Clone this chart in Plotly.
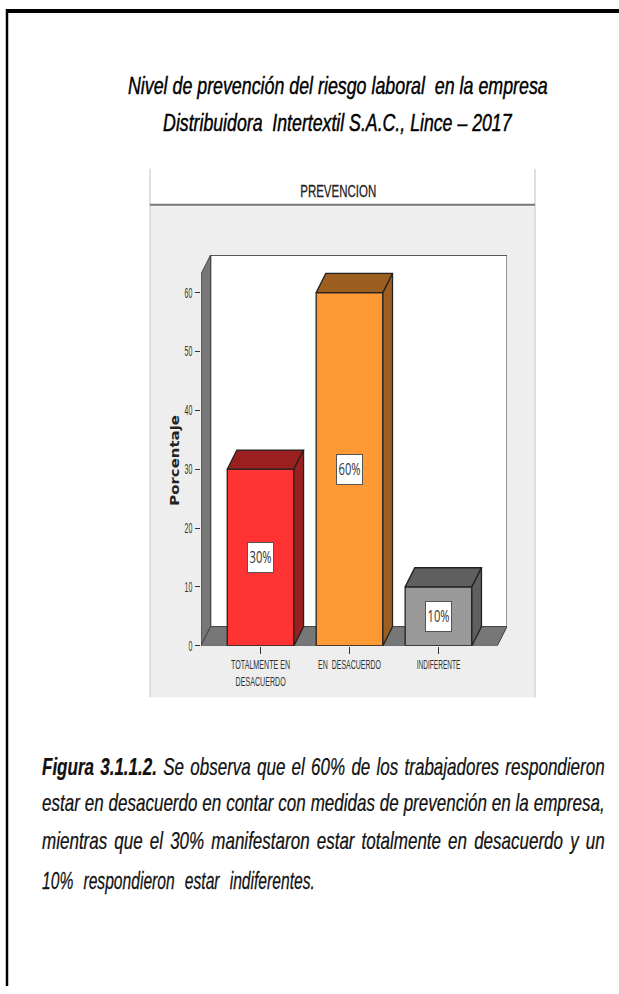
import json
import plotly.graph_objects as go

W, H = 619, 994
categories = ["TOTALMENTE EN<br>DESACUERDO", "EN  DESACUERDO", "INDIFERENTE"]
values = [30, 60, 10]
labels = ["30%", "60%", "10%"]
front_colors = ["#ff3333", "#ff9933", "#999999"]
dark_colors = ["#9c1f1f", "#9c5f1f", "#5f5f5f"]
y_ticks = [0, 10, 20, 30, 40, 50, 60]
title_lines = ["Nivel de prevención del riesgo laboral  en la empresa",
               "Distribuidora  Intertextil S.A.C., Lince – 2017"]
caption_lines = [
    "<b>Figura 3.1.1.2.</b> Se observa que el 60% de los trabajadores respondieron",
    "estar en desacuerdo en contar con medidas de prevención en la empresa,",
    "mientras que el 30% manifestaron estar totalmente en desacuerdo y un",
    "10% respondieron estar indiferentes.",
]

XMIN, XMAX, YMAX = -0.67, 2.77, 66.4
DX, DY, HALF = 0.108, 3.25, 0.375
FONT = "Liberation Sans"

def px(x): return x / W
def py(y): return 1 - y / H

fig = go.Figure()
xs = list(range(len(values)))
fig.add_trace(go.Bar(x=xs, y=values, width=2 * HALF, marker=dict(color=front_colors, line=dict(color="#222222", width=1.3)),
                     showlegend=False, hoverinfo="skip"))
for x, v, c in zip(xs, values, dark_colors):
    l, r = x - HALF, x + HALF
    fig.add_trace(go.Scatter(x=[l, r, r + DX, l + DX, l], y=[v, v, v + DY, v + DY, v], fill="toself", fillcolor=c,
                             mode="lines", line=dict(color="#222222", width=1.3), showlegend=False, hoverinfo="skip"))
    fig.add_trace(go.Scatter(x=[r, r + DX, r + DX, r, r], y=[0, DY, v + DY, v, 0], fill="toself", fillcolor=c,
                             mode="lines", line=dict(color="#222222", width=1.3), showlegend=False, hoverinfo="skip"))

def poly(pts):
    return "M" + " L".join(f"{a},{b}" for a, b in pts) + " Z"

shapes = [
    dict(type="rect", xref="paper", yref="paper", x0=px(150), x1=px(535), y0=py(703), y1=py(207), fillcolor="#eeeeee",
         line=dict(width=0), layer="below"),
    dict(type="line", xref="paper", yref="paper", x0=px(150), x1=px(150), y0=py(703), y1=py(170), line=dict(color="#d4d4d4", width=1.5), layer="below"),
    dict(type="line", xref="paper", yref="paper", x0=px(535), x1=px(535), y0=py(703), y1=py(170), line=dict(color="#d4d4d4", width=1.5), layer="below"),
    dict(type="line", xref="paper", yref="paper", x0=px(150), x1=px(535), y0=py(206.5), y1=py(206.5), line=dict(color="#777777", width=2), layer="below"),
    dict(type="line", xref="paper", yref="paper", x0=px(6), x1=px(619), y0=py(11), y1=py(11), line=dict(color="black", width=4)),
    dict(type="line", xref="paper", yref="paper", x0=px(7), x1=px(7), y0=py(9), y1=py(994), line=dict(color="black", width=2.5)),
    dict(type="path", path=poly([(XMIN + DX, DY), (XMIN + DX, YMAX), (XMAX, YMAX), (XMAX, DY)]), fillcolor="white",
         line=dict(color="#777777", width=1.5), layer="below"),
    dict(type="line", x0=XMIN + DX, x1=XMAX, y0=YMAX, y1=YMAX, line=dict(color="#444444", width=1.5), layer="below"),
    dict(type="path", path=poly([(XMIN, 0), (XMIN, YMAX - DY), (XMIN + DX, YMAX), (XMIN + DX, DY)]), fillcolor="#777777",
         line=dict(color="#444444", width=1), layer="below"),
    dict(type="path", path=poly([(XMIN, 0), (XMIN + DX, DY), (XMAX, DY), (XMAX - DX, 0)]), fillcolor="#777777",
         line=dict(color="#444444", width=1), layer="below"),
]

ann, fits = [], []
def note(text, x, y, size, family=FONT, color="#111111", fit=None, **kw):
    d = dict(text=text, x=x, y=y, showarrow=False, yanchor="middle", font=dict(family=family, size=size, color=color))
    d.update(kw)
    ann.append(d)
    fits.append(fit or {})

for x, v, t in zip(xs, values, labels):
    note(t, x, v / 2, 16, family="Open Sans", color="#333333", bgcolor="white", bordercolor="#555555", borderwidth=1,
         width=23, height=27, fit=dict(target=22))
note("PREVENCION", px(338), py(193), 17, xref="paper", yref="paper", color="#222222", xanchor="center", fit=dict(target=76, heavy=0.3))
note("<b>Porcentaje</b>", px(175), py(464), 11.5, family="DejaVu Sans", xref="paper", yref="paper", textangle=-90,
     color="#222222", xanchor="center", fit=dict(target=91))
for y, t, w in zip([86, 123], title_lines, [420, 350]):
    note(f"<i>{t}</i>", px(338), py(y), 24, xref="paper", yref="paper", color="black", xanchor="center", fit=dict(target=w, heavy=0.45))
for y, t, w, sc in zip([773, 810, 848, 888], caption_lines, [563, 563, 563, 273], [0.74, 0.74, 0.74, 0.68]):
    note(f"<i>{t}</i>", px(42), py(y), 23, xref="paper", yref="paper", xanchor="left",
         fit=dict(target=w, scale=sc, left=42, heavy=0.25))

fig.update_layout(
    width=W, height=H, margin=dict(l=0, r=0, t=0, b=0), paper_bgcolor="white", plot_bgcolor="rgba(0,0,0,0)",
    shapes=shapes, annotations=ann, showlegend=False, barmode="overlay",
    xaxis=dict(domain=[px(201), px(507)], range=[XMIN, XMAX], tickvals=xs, ticktext=categories, ticks="outside", ticklen=7,
               tickcolor="#333333", showgrid=False, zeroline=False, showline=False,
               tickfont=dict(family=FONT, size=13, color="#333333"), tickangle=0),
    yaxis=dict(domain=[py(651), py(257)], range=[0, YMAX], tickvals=y_ticks, ticks="outside", ticklen=5, tickcolor="#333333",
               showgrid=False, zeroline=False, showline=False, tickfont=dict(family=FONT, size=14, color="#333333")),
)

post = """
var FITS = %s;
var XT = [59, 63, 44];
function fit(el, c) {
  var b = el.getBBox(), s;
  if (c.scale) {
    var n = (el.textContent.match(/ /g) || []).length;
    el.style.wordSpacing = ((c.target / c.scale - b.width) / n) + 'px';
    b = el.getBBox(); s = c.scale;
  } else { s = c.target / b.width; }
  var p = c.pivot === 'right' ? b.x + b.width : b.x + b.width / 2;
  var base = el.getAttribute('transform') || '';
  var tr = ' translate(' + p + ',0) scale(' + s + ',1) translate(' + (-p) + ',0)';
  el.setAttribute('transform', base + tr);
  if (c.left !== undefined) {
    var d = c.left - el.getBoundingClientRect().left;
    el.setAttribute('transform', base + ' translate(' + d + ',0)' + tr);
  }
  if (c.heavy) { el.style.stroke = el.style.fill || 'black'; el.style.strokeWidth = c.heavy + 'px'; }
}
document.body.style.margin = '0';
document.querySelectorAll('.annotation-text').forEach(function (el, i) {
  el.removeAttribute('clip-path'); el.style.clipPath = '';
  if (FITS[i] && FITS[i].target) fit(el, FITS[i]);
});
document.querySelectorAll('.xtick text').forEach(function (el, i) { fit(el, {target: XT[i]}); });
document.querySelectorAll('.ytick text').forEach(function (el) {
  var w = el.getBBox().width; fit(el, {target: w * 0.5, pivot: 'right'});
});
""" % json.dumps(fits)
fig.write_html("out.html", post_script=post, config=dict(displayModeBar=False))
